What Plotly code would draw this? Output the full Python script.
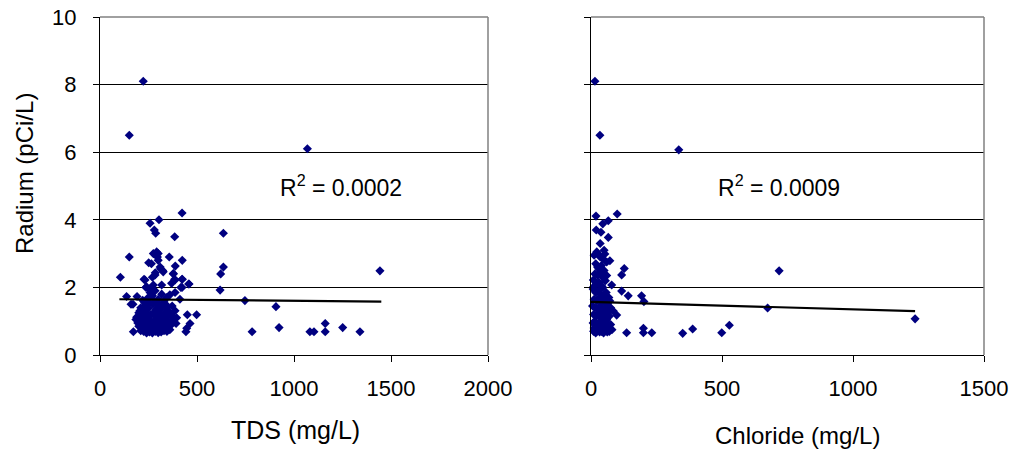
import plotly.graph_objects as go

# ---------------- data ----------------
# Left panel: Radium vs TDS
tds = [223, 151, 1069, 423, 304, 258, 280, 287, 385, 636, 292, 300, 151, 357, 251, 424, 388, 323,
       636, 622, 285, 378, 105, 227, 385, 423, 457, 237, 423, 619, 137, 191, 747, 907, 160, 206,
       189, 387, 450, 498, 392, 464, 447, 443, 172, 784, 923, 1082, 1103, 1161, 1161, 1251, 1340,
       1443, 232, 284, 326, 378, 387, 424, 459, 240, 275, 318, 369, 417,
       200, 215, 230, 245, 260, 275, 290, 305, 320, 335, 350, 365, 380,
       205, 220, 235, 250, 265, 280, 295, 310, 325, 340, 355, 370,
       200, 215, 230, 245, 260, 275, 290, 305, 320, 335, 350, 365,
       210, 225, 240, 255, 270, 285, 300, 315, 330, 345, 360, 240, 270, 300,
       170, 232, 250, 273, 290, 318, 344, 230, 300,
       258, 284, 318, 344, 387, 412, 220, 245, 270, 300, 330, 360,
       265, 300, 310, 275, 296, 312, 270, 255,
       185, 195, 210, 225, 240, 255, 282, 310, 338, 352, 372, 395]
ra_tds = [8.1, 6.5, 6.1, 4.2, 4.0, 3.9, 3.7, 3.6, 3.5, 3.6, 3.05, 3.0, 2.9, 2.9, 2.73, 2.8, 2.63, 2.5,
          2.6, 2.4, 2.43, 2.4, 2.3, 2.24, 2.24, 2.24, 2.1, 2.0, 2.0, 1.92, 1.73, 1.73, 1.61, 1.43, 1.5, 1.31,
          1.12, 1.31, 1.19, 1.19, 0.93, 0.93, 0.79, 0.69, 0.69, 0.69, 0.81, 0.69, 0.69, 0.93, 0.69, 0.81, 0.69,
          2.49, 2.22, 2.37, 2.46, 2.41, 2.22, 2.24, 2.1, 2.02, 2.07, 2.07, 2.12, 2.0,
          1.25, 1.2, 1.15, 1.22, 1.18, 1.25, 1.12, 1.2, 1.1, 1.25, 1.15, 1.2, 1.1,
          1.05, 1.0, 0.95, 1.05, 0.98, 1.02, 0.95, 1.05, 0.98, 1.0, 0.95, 1.02,
          0.85, 0.88, 0.82, 0.9, 0.85, 0.8, 0.88, 0.82, 0.9, 0.85, 0.8, 0.88,
          0.72, 0.7, 0.75, 0.68, 0.72, 0.7, 0.74, 0.68, 0.72, 0.7, 0.75, 0.65, 0.65, 0.66,
          1.5, 1.45, 1.38, 1.5, 1.35, 1.45, 1.4, 1.55, 1.52,
          1.85, 1.9, 1.8, 1.7, 1.85, 1.65, 1.62, 1.68, 1.75, 1.65, 1.6, 1.78,
          2.7, 2.8, 2.6, 3.0, 2.9, 2.55, 2.3, 1.95,
          1.05, 0.95, 1.4, 1.3, 1.6, 1.55, 1.58, 1.35, 1.5, 1.3, 1.45, 1.1]
tds_trend_x = [100, 1450]
tds_trend_y = [1.65, 1.58]

# Right panel: Radium vs Chloride
cl = [15, 34, 335, 19, 100, 66, 45, 38, 66, 127, 117, 136, 200, 200, 232, 350, 388, 499, 528, 674, 718, 1237,
      12, 22, 28, 35, 45, 53, 60, 72, 18, 40, 30, 50,
      9, 15, 25, 35, 45, 55, 20, 30, 40, 60, 79, 10,
      8, 18, 28, 38, 48, 58, 68, 12, 22, 32, 42, 52, 62, 72, 117, 142, 193, 202,
      6, 15, 25, 35, 45, 55, 65, 75, 10, 20, 30, 40, 50, 60, 70, 98, 85,
      8, 15, 22, 30, 38, 45, 52, 60, 68, 75, 10, 18, 25, 33, 40, 48, 55, 62, 70, 80, 12, 28, 42,
      20, 35, 50, 25, 45, 15, 55, 30]
ra_cl = [8.1, 6.5, 6.07, 4.11, 4.17, 3.97, 3.88, 3.63, 3.48, 2.56, 2.37, 0.66, 0.79, 0.66, 0.66, 0.64, 0.77, 0.66, 0.88, 1.39, 2.49, 1.07,
         2.95, 3.05, 2.99, 2.9, 2.85, 2.99, 2.75, 2.79, 2.7, 2.65, 2.55, 2.5,
         2.22, 2.4, 2.35, 2.45, 2.3, 2.2, 2.1, 2.15, 2.05, 2.35, 2.07, 2.02,
         1.95, 1.85, 1.9, 1.8, 1.75, 1.85, 1.7, 1.65, 1.6, 1.7, 1.55, 1.62, 1.5, 1.6, 1.89, 1.75, 1.75, 1.58,
         1.45, 1.4, 1.35, 1.45, 1.3, 1.38, 1.25, 1.4, 1.2, 1.15, 1.25, 1.1, 1.2, 1.05, 1.15, 1.18, 1.3,
         0.95, 0.9, 0.85, 0.95, 0.8, 0.9, 0.85, 0.95, 0.8, 0.9, 0.7, 0.65, 0.72, 0.68, 0.7, 0.65, 0.72, 0.68, 0.7, 0.75, 0.8, 0.78, 0.75,
         3.7, 3.3, 3.1, 2.6, 2.0, 1.0, 1.0, 0.88]
cl_trend_x = [0, 1237]
cl_trend_y = [1.57, 1.30]

y_ticks = [0, 2, 4, 6, 8, 10]
tds_ticks = [0, 500, 1000, 1500, 2000]
cl_ticks = [0, 500, 1000, 1500]
r2_labels = ["R<sup>2</sup> = 0.0002", "R<sup>2</sup> = 0.0009"]

# ---------------- figure ----------------
W, H = 1015, 455
FONT = "Liberation Sans, Arial, sans-serif"
NAVY = "#000080"

def px_x(p):
    return p / W

def px_y(p):
    return 1 - p / H

fig = go.Figure()
marker = dict(symbol="diamond", size=7, color=NAVY, line=dict(width=0))

fig.add_trace(go.Scatter(x=tds, y=ra_tds, mode="markers", marker=marker, xaxis="x", yaxis="y",
                         cliponaxis=False, showlegend=False))
fig.add_trace(go.Scatter(x=tds_trend_x, y=tds_trend_y, mode="lines", line=dict(color="black", width=2.2),
                         xaxis="x", yaxis="y", showlegend=False))
fig.add_trace(go.Scatter(x=cl, y=ra_cl, mode="markers", marker=marker, xaxis="x2", yaxis="y2",
                         cliponaxis=False, showlegend=False))
fig.add_trace(go.Scatter(x=cl_trend_x, y=cl_trend_y, mode="lines", line=dict(color="black", width=2.2),
                         xaxis="x2", yaxis="y2", showlegend=False))

tickfont = dict(family=FONT, size=22, color="black")
common_x = dict(showgrid=False, zeroline=False, showline=True, linecolor="black", linewidth=1,
                ticks="outside", ticklen=6, tickcolor="black", tickfont=tickfont,
                ticklabelstandoff=8, automargin=False)
common_y = dict(range=[0, 10], tickvals=y_ticks, showgrid=True, gridcolor="black", gridwidth=1,
                zeroline=False, showline=True, linecolor="black", linewidth=1,
                ticks="outside", ticklen=6, tickcolor="black", tickfont=tickfont, automargin=False)

fig.update_layout(
    template="none",
    width=W, height=H,
    margin=dict(l=0, r=0, t=0, b=0, autoexpand=False),
    paper_bgcolor="white", plot_bgcolor="white",
    font=dict(family=FONT, color="black"),
    xaxis=dict(domain=[px_x(100), px_x(488)], range=[0, 2000], tickvals=tds_ticks, anchor="y", **common_x),
    yaxis=dict(domain=[px_y(355), px_y(17)], anchor="x", ticklabelstandoff=12, **common_y),
    xaxis2=dict(domain=[px_x(591), px_x(984)], range=[0, 1500], tickvals=cl_ticks, anchor="y2", **common_x),
    yaxis2=dict(domain=[px_y(355), px_y(17)], anchor="x2", showticklabels=False, **common_y),
)

# gray top/right frame lines
for xr, yr in (("x domain", "y domain"), ("x2 domain", "y2 domain")):
    fig.add_shape(type="line", xref=xr, yref=yr, x0=0, x1=1, y0=1, y1=1,
                  line=dict(color="#808080", width=1.5))
    fig.add_shape(type="line", xref=xr, yref=yr, x0=1, x1=1, y0=0, y1=1,
                  line=dict(color="#808080", width=1.5))

# axis titles
fig.add_annotation(text="Radium (pCi/L)", xref="paper", yref="paper", x=px_x(24), y=px_y(174),
                   textangle=-90, showarrow=False, font=dict(family=FONT, size=24),
                   xanchor="center", yanchor="middle")
fig.add_annotation(text="TDS (mg/L)", xref="paper", yref="paper", x=px_x(295), y=px_y(430),
                   showarrow=False, font=dict(family=FONT, size=25), xanchor="center", yanchor="middle")
fig.add_annotation(text="Chloride (mg/L)", xref="paper", yref="paper", x=px_x(797), y=px_y(435),
                   showarrow=False, font=dict(family=FONT, size=24), xanchor="center", yanchor="middle")

# R^2 labels
fig.add_annotation(text=r2_labels[0], xref="paper", yref="paper", x=px_x(278), y=px_y(186),
                   showarrow=False, font=dict(family=FONT, size=23), xanchor="left", yanchor="middle")
fig.add_annotation(text=r2_labels[1], xref="paper", yref="paper", x=px_x(716), y=px_y(186),
                   showarrow=False, font=dict(family=FONT, size=23), xanchor="left", yanchor="middle")

fig.write_html("out.html")
